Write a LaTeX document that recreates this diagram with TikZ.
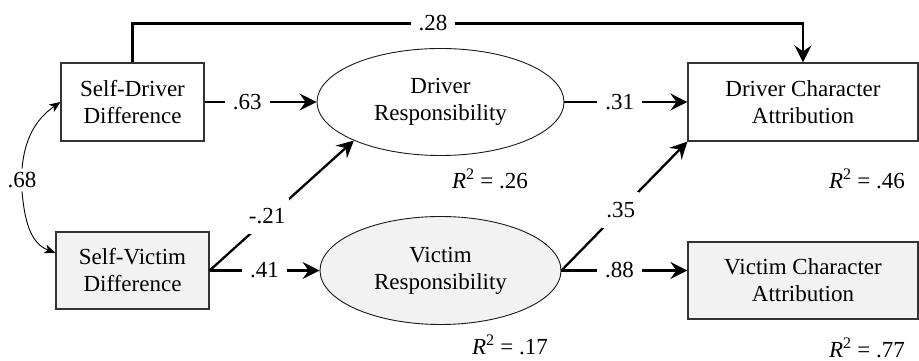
\documentclass[tikz,border=0pt]{standalone}
\usepackage{fontspec}
\setmainfont{Liberation Serif}
\usetikzlibrary{shapes.geometric}
\usetikzlibrary{arrows.meta}

\tikzset{
  obsvar/.style={draw=black!80, line width=1.2pt, align=center, inner sep=0pt},
  latvar/.style={draw=black!90, ellipse, line width=0.9pt, align=center, inner sep=0pt},
  shaded/.style={fill=gray!10},
  eff/.style={line width=2.3pt, -{Stealth[length=17pt,width=17pt,inset=6pt]}},
  cov/.style={line width=0.9pt, -{Stealth[length=11pt,width=9pt,inset=3pt]}},
  coef/.style={fill=white, inner xsep=8pt, inner ysep=2pt},
  dcoef/.style={fill=white, inner xsep=4pt, inner ysep=10pt},
}

\begin{document}
\begin{tikzpicture}[x=1pt,y=1pt,font=\fontsize{23}{27}\selectfont]
\useasboundingbox (0,0) rectangle (919,361);

% observed and latent variables
\node[obsvar, minimum width=143pt, minimum height=78pt] (sdd) at (132.5,259) {Self-Driver\\Difference};
\node[obsvar, shaded, minimum width=153pt, minimum height=77pt] (svd) at (132.5,90.5) {Self-Victim\\Difference};
\node[latvar, minimum width=247pt, minimum height=107pt] (dr) at (440.5,259) {Driver\\Responsibility};
\node[latvar, shaded, minimum width=241pt, minimum height=108pt] (vr) at (440.5,90.5) {Victim\\Responsibility};
\node[obsvar, minimum width=230pt, minimum height=78pt] (dca) at (803,259) {Driver Character\\Attribution};
\node[obsvar, shaded, minimum width=230pt, minimum height=77pt] (vca) at (803,80.5) {Victim Character\\Attribution};

% explained variance
\node (r2dr) at (490,182) {\textit{R}\textsuperscript{2} = .26};
\node (r2dca) at (867,182) {\textit{R}\textsuperscript{2} = .46};
\node (r2vr) at (510,16) {\textit{R}\textsuperscript{2} = .17};
\node (r2vca) at (867,13) {\textit{R}\textsuperscript{2} = .77};

% correlation
\node (corr) at (22,181) {.68};
\draw[cov] (corr.north) to[out=85,in=215] (sdd.west);
\draw[cov] (corr.south) to[out=-85,in=160] (svd.167);

% paths
\draw[eff] (sdd.north) -- ++(0,39) -| node[coef,pos=0.224] {.28} (dca.north);
\draw[eff] (sdd.east) -- node[coef,pos=0.38] {.63} (dr.west);
\draw[eff] (dr.east) -- node[coef,pos=0.45] {.31} (dca.west);
\draw[eff] (svd.east) -- node[dcoef,pos=0.42,xshift=-3pt] {-.21} (dr.204);
\draw[eff] (svd.east) -- node[coef,pos=0.5] {.41} (vr.west);
\draw[eff] (vr.east) -- node[dcoef,pos=0.47] {.35} (dca.south west);
\draw[eff] (vr.east) -- node[coef,pos=0.46] {.88} (vr.east -| vca.west);
\end{tikzpicture}
\end{document}
